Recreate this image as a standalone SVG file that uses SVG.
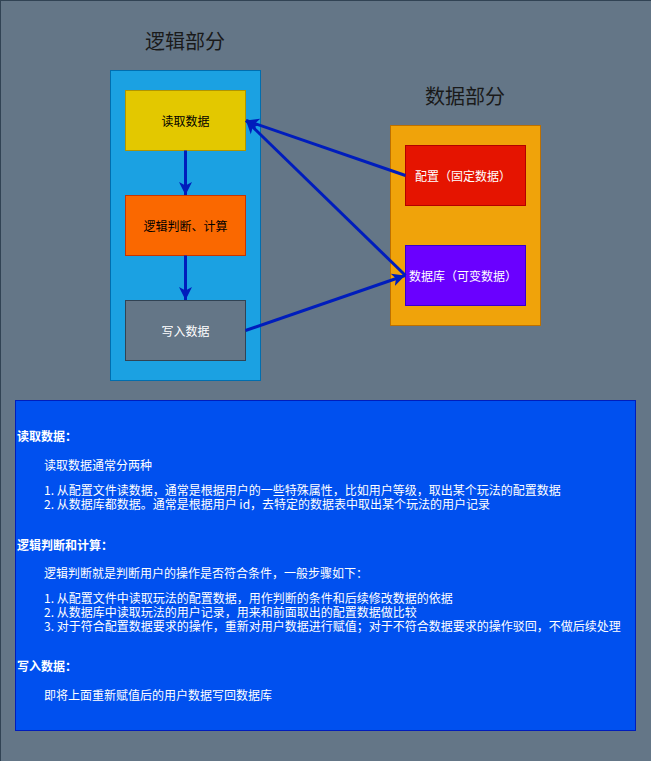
<svg xmlns="http://www.w3.org/2000/svg" width="651" height="761" viewBox="0 0 651 761">
<style>
text { font-family: "Noto Sans CJK SC", "Noto Sans", "Liberation Sans", sans-serif; }
.title { font-size: 20px; fill: #1a1a1a; text-anchor: middle; }
.lbl { font-size: 12px; text-anchor: middle; dominant-baseline: central; }
.conn { stroke: #001DBC; stroke-width: 3; fill: none; }
.body { font-size: 12px; fill: #ffffff; }
.bold { font-weight: bold; }
</style>
<defs>
<marker id="arr" markerUnits="userSpaceOnUse" markerWidth="14" markerHeight="14" refX="13" refY="6.5" orient="auto" viewBox="0 0 14 13">
<path d="M0,0 L13,6.5 L0,13 L3.5,6.5 Z" fill="#001DBC"/>
</marker>
</defs>
<rect x="0.5" y="0.5" width="670" height="780" fill="#647687" stroke="#314354"/>

<g id="title-logic"><text class="title" x="185" y="49">逻辑部分</text></g>
<g id="title-data"><text class="title" x="465" y="104">数据部分</text></g>

<g id="logic-container"><rect x="110.5" y="70.5" width="150" height="310" fill="#1ba1e2" stroke="#006eaf"/></g>
<g id="data-container"><rect x="390.5" y="125.5" width="150" height="200" fill="#f0a30a" stroke="#BD7000"/></g>

<g id="read"><rect x="125.5" y="90.5" width="120" height="60" fill="#e3c800" stroke="#B09500"/><text class="lbl" x="185.5" y="120.5" fill="#000000">读取数据</text></g>
<g id="calc"><rect x="125.5" y="195.5" width="120" height="60" fill="#fa6800" stroke="#C73500"/><text class="lbl" x="185.5" y="225.5" fill="#000000">逻辑判断、计算</text></g>
<g id="write"><rect x="125.5" y="300.5" width="120" height="60" fill="#647687" stroke="#314354"/><text class="lbl" x="185.5" y="330.5" fill="#ffffff">写入数据</text></g>
<g id="config"><rect x="405.5" y="145.5" width="120" height="60" fill="#e51400" stroke="#B20000"/><text class="lbl" x="463" y="175.5" fill="#ffffff">配置（固定数据）</text></g>
<g id="db"><rect x="405.5" y="245.5" width="120" height="60" fill="#6a00ff" stroke="#3700CC"/><text class="lbl" x="463" y="275.5" fill="#ffffff">数据库（可变数据）</text></g>

<g id="connectors">
<line class="conn" x1="185.5" y1="150.5" x2="185.5" y2="195" marker-end="url(#arr)"/>
<line class="conn" x1="185.5" y1="255.5" x2="185.5" y2="300" marker-end="url(#arr)"/>
<line class="conn" x1="405.5" y1="175.5" x2="246" y2="120.5" marker-end="url(#arr)"/>
<line class="conn" x1="405.5" y1="275.5" x2="246" y2="120.5" marker-end="url(#arr)"/>
<line class="conn" x1="245.5" y1="330.5" x2="405" y2="275.5" marker-end="url(#arr)"/>
</g>

<g id="notes">
<rect x="15.5" y="400.5" width="620" height="330" fill="#0050ef" stroke="#001DBC"/>
<text class="body bold" x="17" y="441">读取数据：</text>
<text class="body" x="44" y="470">读取数据通常分两种</text>
<text class="body" x="44" y="495">1. 从配置文件读数据，通常是根据用户的一些特殊属性，比如用户等级，取出某个玩法的配置数据</text>
<text class="body" x="44" y="509">2. 从数据库都数据。通常是根据用户 id，去特定的数据表中取出某个玩法的用户记录</text>
<text class="body bold" x="17" y="550">逻辑判断和计算：</text>
<text class="body" x="44" y="578">逻辑判断就是判断用户的操作是否符合条件，一般步骤如下：</text>
<text class="body" x="44" y="603">1. 从配置文件中读取玩法的配置数据，用作判断的条件和后续修改数据的依据</text>
<text class="body" x="44" y="617">2. 从数据库中读取玩法的用户记录，用来和前面取出的配置数据做比较</text>
<text class="body" x="44" y="631">3. 对于符合配置数据要求的操作，重新对用户数据进行赋值；对于不符合数据要求的操作驳回，不做后续处理</text>
<text class="body bold" x="17" y="671">写入数据：</text>
<text class="body" x="44" y="700">即将上面重新赋值后的用户数据写回数据库</text>
</g>
</svg>
